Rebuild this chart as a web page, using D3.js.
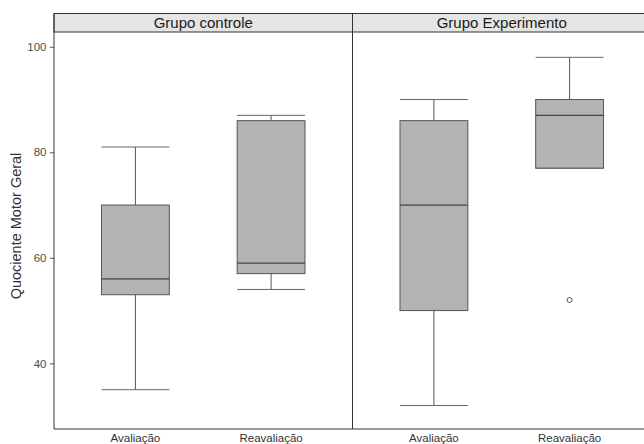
<!DOCTYPE html>
<html>
<head>
<meta charset="utf-8">
<script src="https://cdn.jsdelivr.net/npm/d3@7"></script>
<style>
  body { margin: 0; background: #fff; }
  text { font-family: "Liberation Sans", Arial, sans-serif; }
</style>
</head>
<body>
<svg id="chart" width="644" height="444"></svg>
<script>
// data
const groups = ["Grupo controle", "Grupo Experimento"];
const stages = ["Avaliação", "Reavaliação"];
const yTicks = [40, 60, 80, 100];

// one entry per group, in stage order
const whiskerLow  = [[35, 54], [32, 77]];
const q1Values    = [[53, 57], [50, 77]];
const medians     = [[56, 59], [70, 87]];
const q3Values    = [[70, 86], [86, 90]];
const whiskerHigh = [[81, 87], [90, 98]];
const outliers    = [[[], []], [[], [52]]];

const svg = d3.select("#chart");
const TOP = 32, BOTTOM = 429, LEFT = 54, PANEL_W = 298.5;

const y = d3.scaleLinear().domain([27.55, 102.8]).range([BOTTOM, TOP]);

// strips
groups.forEach((g, i) => {
    const x0 = LEFT + i * PANEL_W;
    svg.append("rect")
        .attr("x", x0).attr("y", 13.5)
        .attr("width", PANEL_W).attr("height", 18.5)
        .attr("fill", "#e5e5e5")
        .attr("stroke", "#333").attr("stroke-width", 1);
    svg.append("text")
        .attr("x", x0 + PANEL_W / 2).attr("y", 28)
        .attr("text-anchor", "middle")
        .attr("font-size", 15).attr("fill", "#1a1a1a")
        .text(g);
});

groups.forEach((g, i) => {
    const x0 = LEFT + i * PANEL_W;
    const x = d3.scaleBand().domain(stages)
        .range([x0, x0 + PANEL_W])
        .paddingInner(0.5).paddingOuter(0.35);
    const panel = svg.append("g");

    stages.forEach((s, j) => {
        const cx = x(s) + x.bandwidth() / 2;
        const bx = x(s), bw = x.bandwidth();
        // whiskers
        panel.append("line")
            .attr("x1", cx).attr("x2", cx)
            .attr("y1", y(whiskerHigh[i][j])).attr("y2", y(q3Values[i][j]))
            .attr("stroke", "#555");
        panel.append("line")
            .attr("x1", cx).attr("x2", cx)
            .attr("y1", y(q1Values[i][j])).attr("y2", y(whiskerLow[i][j]))
            .attr("stroke", "#555");
        // caps
        [whiskerHigh[i][j], whiskerLow[i][j]].forEach(v => {
            panel.append("line")
                .attr("x1", bx).attr("x2", bx + bw)
                .attr("y1", y(v)).attr("y2", y(v))
                .attr("stroke", "#666");
        });
        // box
        panel.append("rect")
            .attr("x", bx).attr("y", y(q3Values[i][j]))
            .attr("width", bw)
            .attr("height", y(q1Values[i][j]) - y(q3Values[i][j]))
            .attr("fill", "#b3b3b3")
            .attr("stroke", "#555").attr("stroke-width", 1);
        panel.append("line")
            .attr("x1", bx).attr("x2", bx + bw)
            .attr("y1", y(medians[i][j])).attr("y2", y(medians[i][j]))
            .attr("stroke", "#444").attr("stroke-width", 1.3);
        // outliers
        outliers[i][j].forEach(v => {
            panel.append("circle")
                .attr("cx", cx).attr("cy", y(v)).attr("r", 2.5)
                .attr("fill", "none").attr("stroke", "#555");
        });
        // x labels
        svg.append("text")
            .attr("x", cx).attr("y", 441.5)
            .attr("text-anchor", "middle")
            .attr("font-size", 11.5).attr("fill", "#333")
            .text(s);
    });
});

// axis lines and divider
svg.append("line")
    .attr("x1", LEFT).attr("x2", 644)
    .attr("y1", BOTTOM).attr("y2", BOTTOM)
    .attr("stroke", "#333");
svg.append("line")
    .attr("x1", LEFT + PANEL_W).attr("x2", LEFT + PANEL_W)
    .attr("y1", 13.5).attr("y2", BOTTOM)
    .attr("stroke", "#333");

const yAxis = svg.append("g")
    .attr("transform", `translate(${LEFT},0)`)
    .call(d3.axisLeft(y).tickValues(yTicks).tickSize(4).tickPadding(3.5));
yAxis.select(".domain").remove();
svg.append("line")
    .attr("x1", LEFT).attr("x2", LEFT)
    .attr("y1", 13.5).attr("y2", BOTTOM)
    .attr("stroke", "#333");
yAxis.selectAll(".tick line").attr("stroke", "#555");
yAxis.selectAll(".tick text")
    .attr("font-size", 11.5).attr("fill", "#4d4d4d")
    .attr("font-family", "Liberation Sans, Arial, sans-serif");

svg.append("text")
    .attr("transform", "translate(21,226) rotate(-90)")
    .attr("text-anchor", "middle")
    .attr("font-size", 14.5).attr("fill", "#333")
    .text("Quociente Motor Geral");
</script>
</body>
</html>
